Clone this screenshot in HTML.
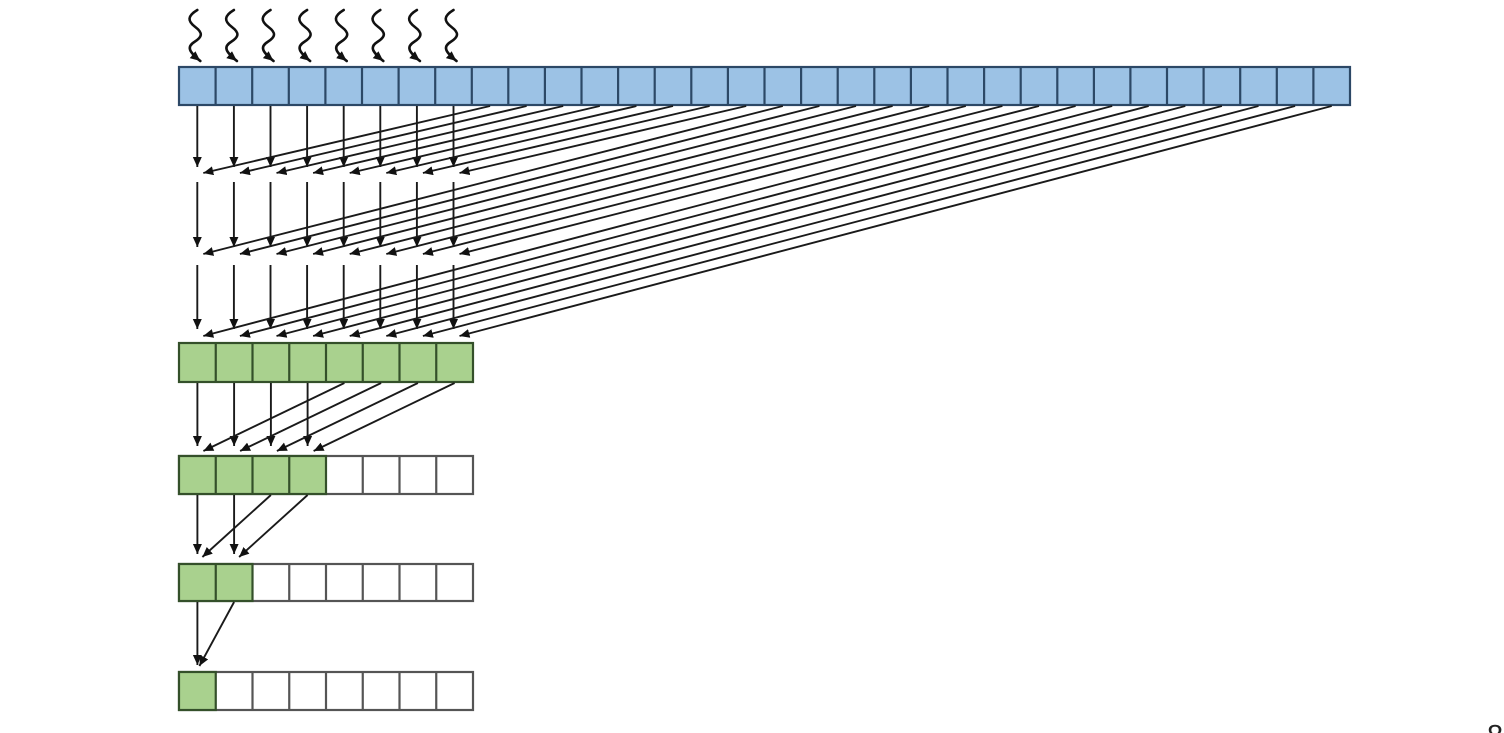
<!DOCTYPE html>
<html><head><meta charset="utf-8"><style>
html,body{margin:0;padding:0;background:#fff;}
svg{display:block;}
</style></head><body>
<svg width="1504" height="733" viewBox="0 0 1504 733" xmlns="http://www.w3.org/2000/svg">
<defs>
<marker id="ah" markerUnits="userSpaceOnUse" markerWidth="12" markerHeight="10" refX="10" refY="4.5" orient="auto">
<path d="M0,0 L10,4.5 L0,9 L2,4.5 z" fill="#111"/>
</marker>
<marker id="ah2" markerUnits="userSpaceOnUse" markerWidth="12" markerHeight="10" refX="10" refY="4.5" orient="auto">
<path d="M0,0 L10,4.5 L0,9 z" fill="#111"/>
</marker>
</defs>

<!-- top blue row -->
<rect x="179" y="67" width="1171" height="38" fill="#9cc2e5" stroke="#2c4866" stroke-width="2.2"/>
<g stroke="#2c4866" stroke-width="2.2">
<line x1="215.6" y1="67" x2="215.6" y2="105"/><line x1="252.2" y1="67" x2="252.2" y2="105"/><line x1="288.8" y1="67" x2="288.8" y2="105"/><line x1="325.4" y1="67" x2="325.4" y2="105"/><line x1="362.0" y1="67" x2="362.0" y2="105"/><line x1="398.6" y1="67" x2="398.6" y2="105"/><line x1="435.2" y1="67" x2="435.2" y2="105"/><line x1="471.8" y1="67" x2="471.8" y2="105"/><line x1="508.3" y1="67" x2="508.3" y2="105"/><line x1="544.9" y1="67" x2="544.9" y2="105"/><line x1="581.5" y1="67" x2="581.5" y2="105"/><line x1="618.1" y1="67" x2="618.1" y2="105"/><line x1="654.7" y1="67" x2="654.7" y2="105"/><line x1="691.3" y1="67" x2="691.3" y2="105"/><line x1="727.9" y1="67" x2="727.9" y2="105"/><line x1="764.5" y1="67" x2="764.5" y2="105"/><line x1="801.1" y1="67" x2="801.1" y2="105"/><line x1="837.7" y1="67" x2="837.7" y2="105"/><line x1="874.3" y1="67" x2="874.3" y2="105"/><line x1="910.9" y1="67" x2="910.9" y2="105"/><line x1="947.5" y1="67" x2="947.5" y2="105"/><line x1="984.1" y1="67" x2="984.1" y2="105"/><line x1="1020.7" y1="67" x2="1020.7" y2="105"/><line x1="1057.3" y1="67" x2="1057.3" y2="105"/><line x1="1093.9" y1="67" x2="1093.9" y2="105"/><line x1="1130.4" y1="67" x2="1130.4" y2="105"/><line x1="1167.0" y1="67" x2="1167.0" y2="105"/><line x1="1203.6" y1="67" x2="1203.6" y2="105"/><line x1="1240.2" y1="67" x2="1240.2" y2="105"/><line x1="1276.8" y1="67" x2="1276.8" y2="105"/><line x1="1313.4" y1="67" x2="1313.4" y2="105"/>
</g>

<!-- squiggles -->
<g fill="none" stroke="#111" stroke-width="2.6" stroke-linecap="round" marker-end="url(#ah2)">
<path transform="translate(195.3,10)" d="M2 0 C-8 6,-8 11,0 17 S7 27,-1 32 S-6 42,5 51"/>
<path transform="translate(231.9,10)" d="M2 0 C-8 6,-8 11,0 17 S7 27,-1 32 S-6 42,5 51"/>
<path transform="translate(268.5,10)" d="M2 0 C-8 6,-8 11,0 17 S7 27,-1 32 S-6 42,5 51"/>
<path transform="translate(305.1,10)" d="M2 0 C-8 6,-8 11,0 17 S7 27,-1 32 S-6 42,5 51"/>
<path transform="translate(341.7,10)" d="M2 0 C-8 6,-8 11,0 17 S7 27,-1 32 S-6 42,5 51"/>
<path transform="translate(378.3,10)" d="M2 0 C-8 6,-8 11,0 17 S7 27,-1 32 S-6 42,5 51"/>
<path transform="translate(414.9,10)" d="M2 0 C-8 6,-8 11,0 17 S7 27,-1 32 S-6 42,5 51"/>
<path transform="translate(451.5,10)" d="M2 0 C-8 6,-8 11,0 17 S7 27,-1 32 S-6 42,5 51"/>
</g>

<!-- connectors top section -->
<g stroke="#1a1a1a" stroke-width="1.9" fill="none" marker-end="url(#ah2)">
<line x1="197.3" y1="106" x2="197.3" y2="167"/><line x1="233.9" y1="106" x2="233.9" y2="167"/><line x1="270.5" y1="106" x2="270.5" y2="167"/><line x1="307.1" y1="106" x2="307.1" y2="167"/><line x1="343.7" y1="106" x2="343.7" y2="167"/><line x1="380.3" y1="106" x2="380.3" y2="167"/><line x1="416.9" y1="106" x2="416.9" y2="167"/><line x1="453.5" y1="106" x2="453.5" y2="167"/>
<line x1="490.1" y1="106" x2="203.3" y2="173"/><line x1="526.6" y1="106" x2="239.9" y2="173"/><line x1="563.2" y1="106" x2="276.5" y2="173"/><line x1="599.8" y1="106" x2="313.1" y2="173"/><line x1="636.4" y1="106" x2="349.7" y2="173"/><line x1="673.0" y1="106" x2="386.3" y2="173"/><line x1="709.6" y1="106" x2="422.9" y2="173"/><line x1="746.2" y1="106" x2="459.5" y2="173"/>
<line x1="197.3" y1="182" x2="197.3" y2="247"/><line x1="233.9" y1="182" x2="233.9" y2="247"/><line x1="270.5" y1="182" x2="270.5" y2="247"/><line x1="307.1" y1="182" x2="307.1" y2="247"/><line x1="343.7" y1="182" x2="343.7" y2="247"/><line x1="380.3" y1="182" x2="380.3" y2="247"/><line x1="416.9" y1="182" x2="416.9" y2="247"/><line x1="453.5" y1="182" x2="453.5" y2="247"/>
<line x1="782.8" y1="106" x2="203.3" y2="254"/><line x1="819.4" y1="106" x2="239.9" y2="254"/><line x1="856.0" y1="106" x2="276.5" y2="254"/><line x1="892.6" y1="106" x2="313.1" y2="254"/><line x1="929.2" y1="106" x2="349.7" y2="254"/><line x1="965.8" y1="106" x2="386.3" y2="254"/><line x1="1002.4" y1="106" x2="422.9" y2="254"/><line x1="1039.0" y1="106" x2="459.5" y2="254"/>
<line x1="197.3" y1="265" x2="197.3" y2="329"/><line x1="233.9" y1="265" x2="233.9" y2="329"/><line x1="270.5" y1="265" x2="270.5" y2="329"/><line x1="307.1" y1="265" x2="307.1" y2="329"/><line x1="343.7" y1="265" x2="343.7" y2="329"/><line x1="380.3" y1="265" x2="380.3" y2="329"/><line x1="416.9" y1="265" x2="416.9" y2="329"/><line x1="453.5" y1="265" x2="453.5" y2="329"/>
<line x1="1075.6" y1="106" x2="203.3" y2="336"/><line x1="1112.2" y1="106" x2="239.9" y2="336"/><line x1="1148.7" y1="106" x2="276.5" y2="336"/><line x1="1185.3" y1="106" x2="313.1" y2="336"/><line x1="1221.9" y1="106" x2="349.7" y2="336"/><line x1="1258.5" y1="106" x2="386.3" y2="336"/><line x1="1295.1" y1="106" x2="422.9" y2="336"/><line x1="1331.7" y1="106" x2="459.5" y2="336"/>
</g>

<!-- green row (8) -->
<rect x="179" y="343" width="294" height="39" fill="#a9d18e" stroke="#34502a" stroke-width="2.2"/>
<g stroke="#34502a" stroke-width="2.2">
<line x1="215.75" y1="343" x2="215.75" y2="382"/><line x1="252.5" y1="343" x2="252.5" y2="382"/><line x1="289.25" y1="343" x2="289.25" y2="382"/><line x1="326" y1="343" x2="326" y2="382"/><line x1="362.75" y1="343" x2="362.75" y2="382"/><line x1="399.5" y1="343" x2="399.5" y2="382"/><line x1="436.25" y1="343" x2="436.25" y2="382"/>
</g>

<!-- row 3 -->
<rect x="179" y="456" width="294" height="38" fill="#fff" stroke="#555" stroke-width="2.2"/>
<g stroke="#555" stroke-width="2.2">
<line x1="362.75" y1="456" x2="362.75" y2="494"/><line x1="399.5" y1="456" x2="399.5" y2="494"/><line x1="436.25" y1="456" x2="436.25" y2="494"/>
</g>
<rect x="179" y="456" width="147" height="38" fill="#a9d18e" stroke="#34502a" stroke-width="2.2"/>
<g stroke="#34502a" stroke-width="2.2">
<line x1="215.75" y1="456" x2="215.75" y2="494"/><line x1="252.5" y1="456" x2="252.5" y2="494"/><line x1="289.25" y1="456" x2="289.25" y2="494"/>
</g>

<!-- row 4 -->
<rect x="179" y="564" width="294" height="37" fill="#fff" stroke="#555" stroke-width="2.2"/>
<g stroke="#555" stroke-width="2.2">
<line x1="289.25" y1="564" x2="289.25" y2="601"/><line x1="326" y1="564" x2="326" y2="601"/><line x1="362.75" y1="564" x2="362.75" y2="601"/><line x1="399.5" y1="564" x2="399.5" y2="601"/><line x1="436.25" y1="564" x2="436.25" y2="601"/>
</g>
<rect x="179" y="564" width="73.5" height="37" fill="#a9d18e" stroke="#34502a" stroke-width="2.2"/>
<line x1="215.75" y1="564" x2="215.75" y2="601" stroke="#34502a" stroke-width="2.2"/>

<!-- row 5 -->
<rect x="179" y="672" width="294" height="38" fill="#fff" stroke="#555" stroke-width="2.2"/>
<g stroke="#555" stroke-width="2.2">
<line x1="252.5" y1="672" x2="252.5" y2="710"/><line x1="289.25" y1="672" x2="289.25" y2="710"/><line x1="326" y1="672" x2="326" y2="710"/><line x1="362.75" y1="672" x2="362.75" y2="710"/><line x1="399.5" y1="672" x2="399.5" y2="710"/><line x1="436.25" y1="672" x2="436.25" y2="710"/>
</g>
<rect x="179" y="672" width="36.75" height="38" fill="#a9d18e" stroke="#34502a" stroke-width="2.2"/>

<!-- lower connectors -->
<g stroke="#1a1a1a" stroke-width="1.9" fill="none" marker-end="url(#ah2)">
<line x1="197.4" y1="383" x2="197.4" y2="446"/><line x1="234.1" y1="383" x2="234.1" y2="446"/><line x1="270.9" y1="383" x2="270.9" y2="446"/><line x1="307.6" y1="383" x2="307.6" y2="446"/>
<line x1="344.4" y1="383" x2="203.4" y2="451"/><line x1="381.1" y1="383" x2="240.1" y2="451"/><line x1="417.9" y1="383" x2="276.9" y2="451"/><line x1="454.6" y1="383" x2="313.6" y2="451"/>
<line x1="197.4" y1="495" x2="197.4" y2="554"/><line x1="234.1" y1="495" x2="234.1" y2="554"/>
<line x1="270.9" y1="495" x2="202.4" y2="557"/><line x1="307.6" y1="495" x2="239.1" y2="557"/>
<line x1="197.4" y1="602" x2="197.4" y2="665"/>
<line x1="234.1" y1="602" x2="199.4" y2="666"/>
</g>

<text x="1487" y="745" font-family="Liberation Sans, sans-serif" font-size="29" fill="#222">8</text>
</svg>
</body></html>
